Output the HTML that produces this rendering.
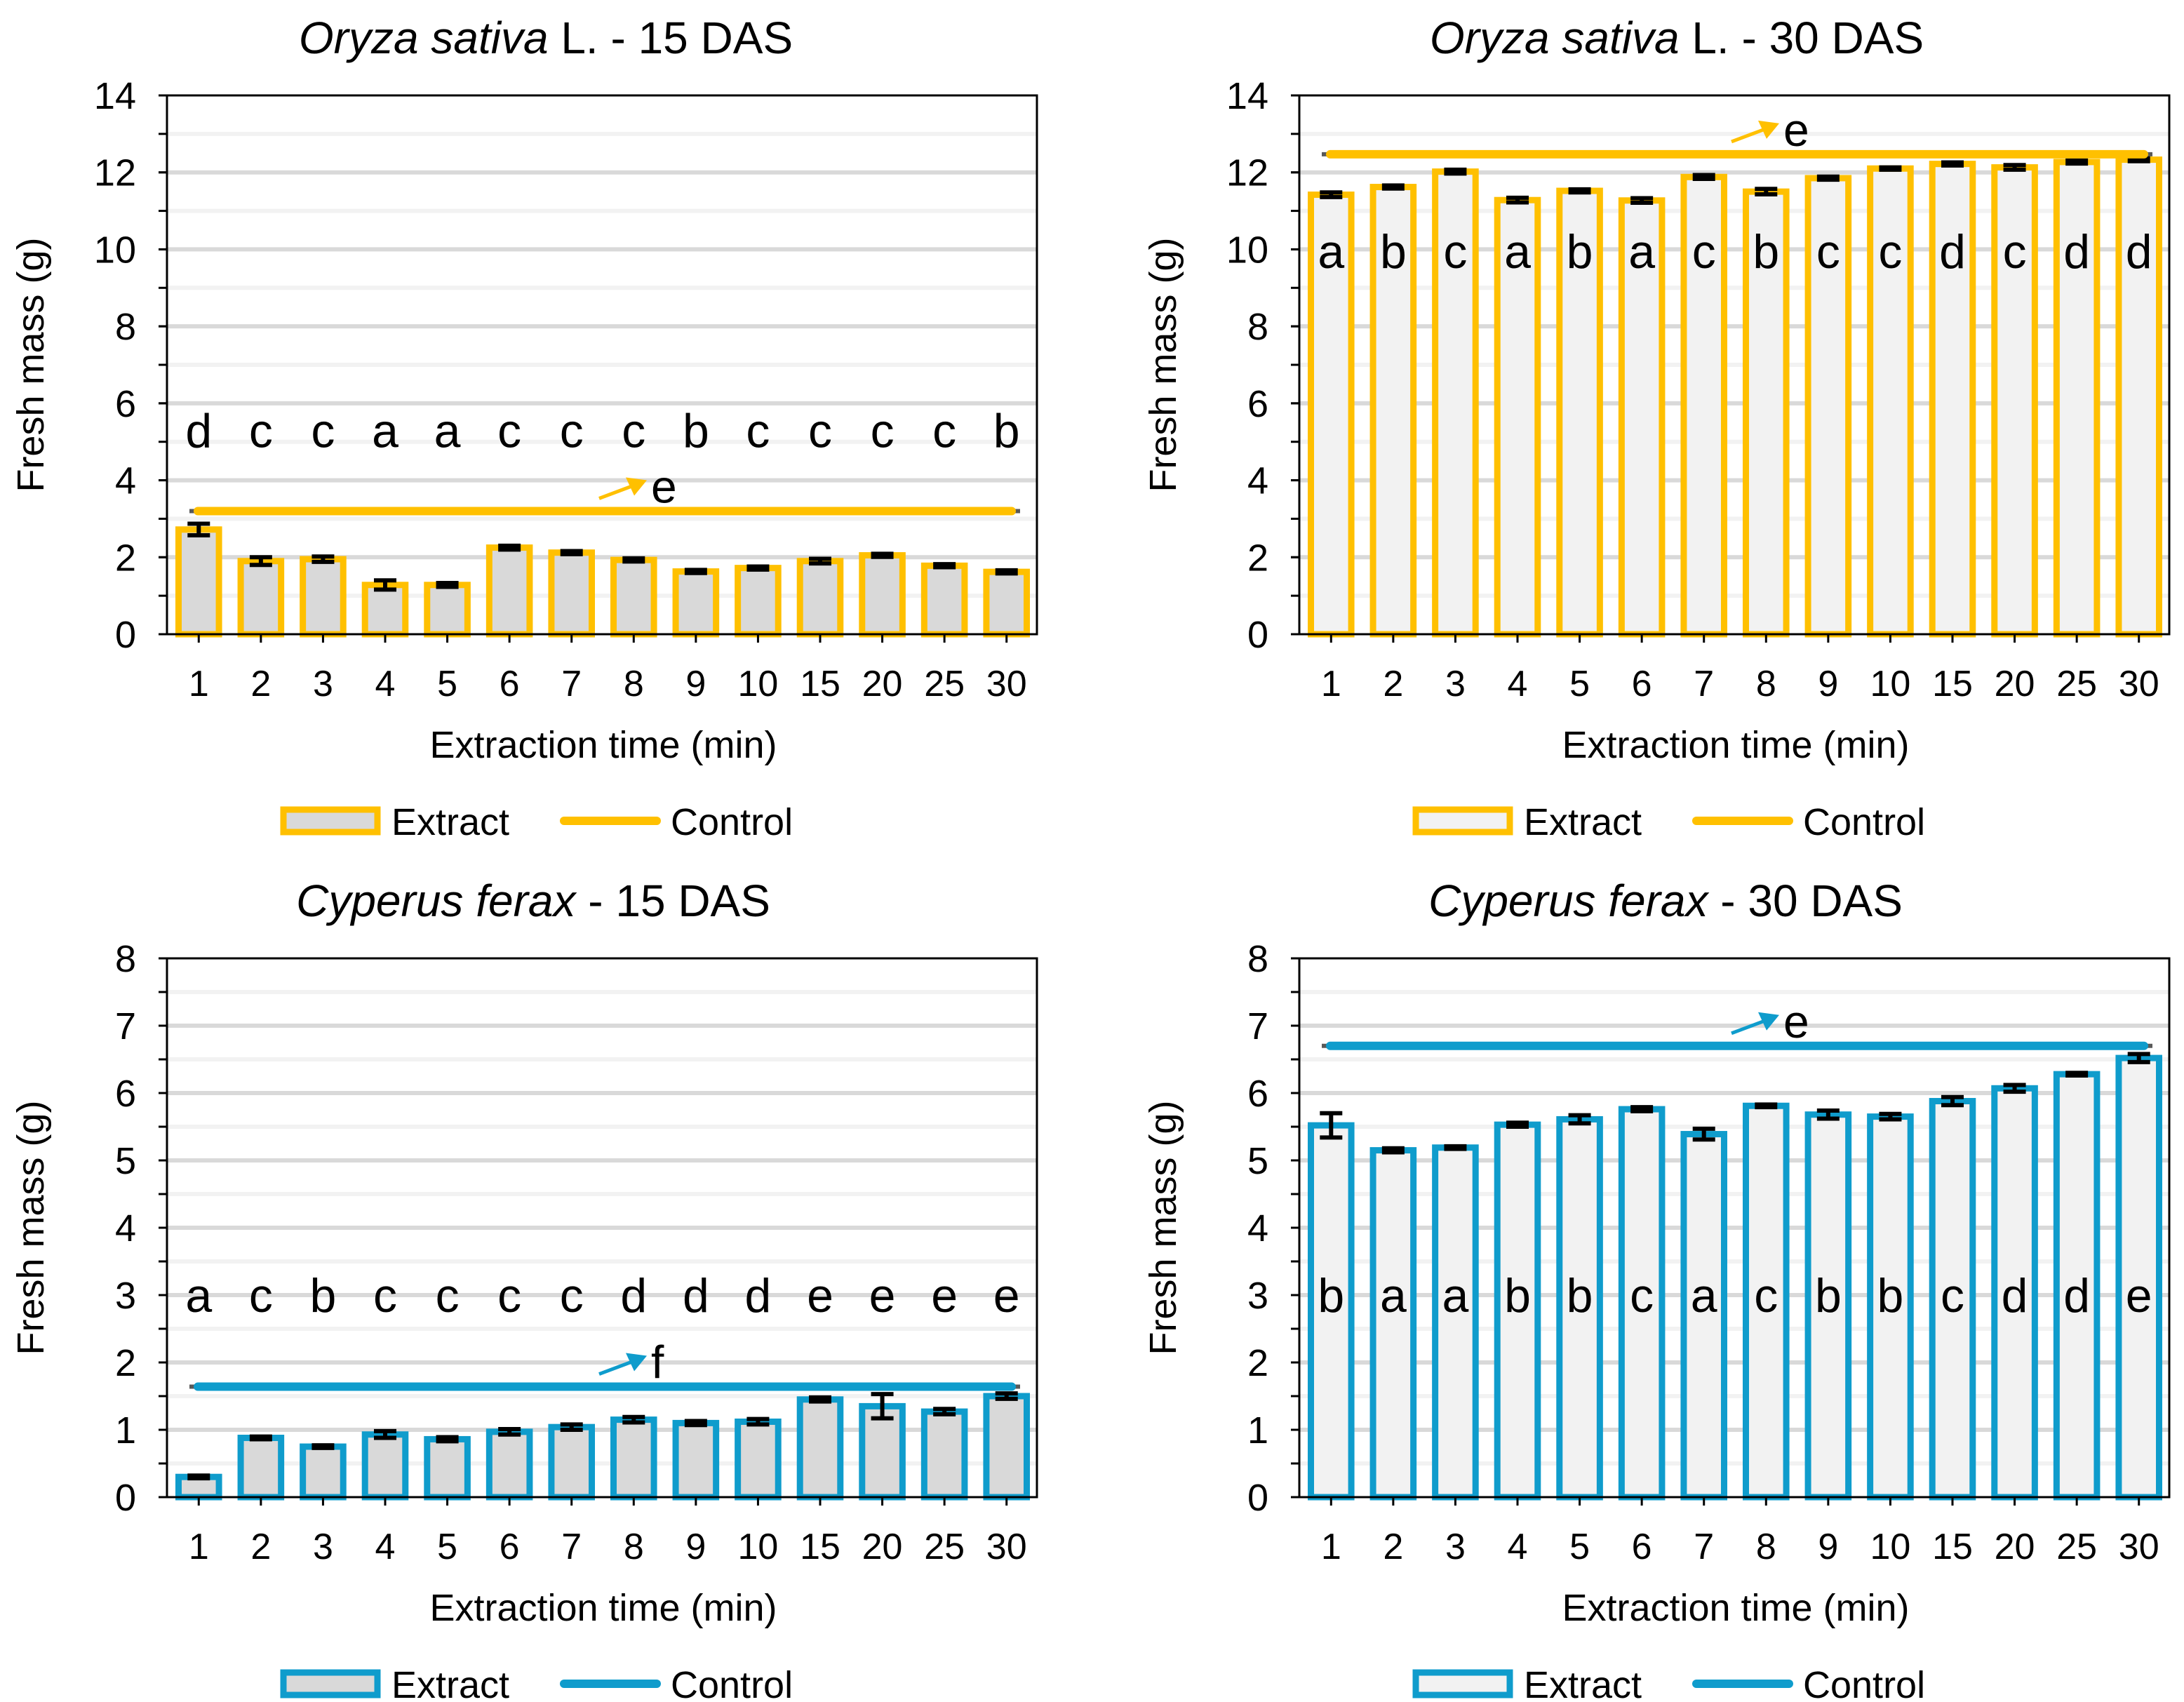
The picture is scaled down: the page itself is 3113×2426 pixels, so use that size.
<!DOCTYPE html>
<html><head><meta charset="utf-8">
<style>
html,body{margin:0;padding:0;background:#fff;}
svg{display:block;font-family:"Liberation Sans",Arial,sans-serif;}
</style></head>
<body>
<svg id="fig" width="3113" height="2426" viewBox="0 0 1556.5 1213" xmlns="http://www.w3.org/2000/svg"></svg>
<script>
const categories = ["1","2","3","4","5","6","7","8","9","10","15","20","25","30"];
const osat15Values = [2.72,1.9,1.95,1.28,1.28,2.25,2.12,1.93,1.63,1.72,1.9,2.05,1.78,1.62];
const osat15Errors = [0.15,0.1,0.07,0.12,0.05,0.05,0.04,0.04,0.04,0.04,0.06,0.04,0.04,0.04];
const osat15Letters = ["d","c","c","a","a","c","c","c","b","c","c","c","c","b"];
const osat15Control = 3.2;
const osat30Values = [11.42,11.62,12.02,11.28,11.52,11.27,11.88,11.5,11.85,12.1,12.22,12.13,12.27,12.33];
const osat30Errors = [0.06,0.04,0.05,0.06,0.04,0.06,0.05,0.07,0.04,0.03,0.04,0.06,0.04,0.04];
const osat30Letters = ["a","b","c","a","b","a","c","b","c","c","d","c","d","d"];
const osat30Control = 12.47;
const cfer15Values = [0.3,0.88,0.75,0.93,0.86,0.97,1.04,1.15,1.1,1.12,1.45,1.35,1.27,1.5];
const cfer15Errors = [0.02,0.02,0.02,0.05,0.03,0.04,0.04,0.04,0.03,0.04,0.03,0.18,0.04,0.04];
const cfer15Letters = ["a","c","b","c","c","c","c","d","d","d","e","e","e","e"];
const cfer15Control = 1.64;
const cfer30Values = [5.52,5.15,5.19,5.53,5.61,5.76,5.39,5.81,5.68,5.65,5.88,6.07,6.28,6.52];
const cfer30Errors = [0.18,0.03,0.02,0.03,0.06,0.03,0.08,0.02,0.06,0.04,0.06,0.05,0.02,0.06];
const cfer30Letters = ["b","a","a","b","b","c","a","c","b","b","c","d","d","e"];
const cfer30Control = 6.7;
const yTicks14 = [0,2,4,6,8,10,12,14];
const yTicks8 = [0,1,2,3,4,5,6,7,8];

const NS="http://www.w3.org/2000/svg";
const svg=document.getElementById('fig');
function mk(tag,attrs,parent,text){const e=document.createElementNS(NS,tag);for(const k in attrs)e.setAttribute(k,attrs[k]);if(text!==undefined)e.textContent=text;(parent||svg).appendChild(e);return e;}

function panel(o){
  const g=mk('g',{});
  
  
  const L=o.x0,R=o.x0+620,T=o.y0,B=o.y0+384;
  const ymax=o.ticks[o.ticks.length-1];
  const y=v=>B-(v/ymax)*(B-T);
  const slot=(R-L)/categories.length;
  const xc=i=>L+slot*(i+0.5)+0.5;
  const t=mk('text',{x:o.titleX,y:T-30,'font-size':32,'text-anchor':'middle'},g);
  
  
  mk('tspan',{'font-style':'italic'},t,o.species);
  mk('tspan',{},t,o.suffix);
  const step=o.ticks[1]-o.ticks[0];
  for(let v=step/2;v<ymax;v+=step/2){
    const major=Math.abs(v/step-Math.round(v/step))<1e-6;
    const gl=mk('line',{x1:L,x2:R,y1:y(v),y2:y(v),stroke:major?'#d9d9d9':'#f2f2f2','stroke-width':3},g);
    
    
    mk('line',{x1:L-6,x2:L,y1:y(v),y2:y(v),stroke:'#000','stroke-width':1.5},g);
  }
  o.ticks.forEach(v=>{
    mk('line',{x1:L-6,x2:L,y1:y(v),y2:y(v),stroke:'#000','stroke-width':1.5},g);
    const tl=mk('text',{x:L-22,y:y(v)+9.5,'font-size':27,'text-anchor':'end'},g,String(v));
    
    
  });
  categories.forEach((c,i)=>{
    const v=o.values[i],bw=slot*0.65;
    const r=mk('rect',{x:xc(i)-bw/2,y:y(v),width:bw,height:B-y(v),fill:o.fill,stroke:o.color,'stroke-width':4.5},g);
    
    
    const e=o.errors[i];
    const eb=mk('path',{d:`M${xc(i)-8},${y(v+e)}H${xc(i)+8}M${xc(i)},${y(v+e)}V${y(v-e)}M${xc(i)-8},${y(v-e)}H${xc(i)+8}`,stroke:'#000','stroke-width':3,fill:'none'},g);
    
    
    const lt=mk('text',{x:xc(i),y:y(o.letterY)+12,'font-size':34,'text-anchor':'middle'},g,o.letters[i]);
    
    
    const xl=mk('text',{x:xc(i),y:B+44,'font-size':26,'text-anchor':'middle'},g,c);
    
    
    mk('line',{x1:xc(i),x2:xc(i),y1:B,y2:B+6,stroke:'#000','stroke-width':1.5},g);
  });
  const fr=mk('rect',{x:L,y:T,width:R-L,height:B-T,fill:'none',stroke:'#000','stroke-width':1.5},g);
  
  
  const cy=y(o.control);
  mk('line',{x1:L+16,x2:R-12,y1:cy,y2:cy,stroke:'#595959','stroke-width':3},g);
  const cl=mk('line',{x1:L+22,x2:R-18,y1:cy,y2:cy,stroke:o.color,'stroke-width':6,'stroke-linecap':'round'},g);
  
  
  const ax=L+308,ay=cy-9;
  const ar=mk('g',{},g);
  
  
  mk('line',{x1:ax,y1:ay,x2:ax+24,y2:ay-9,stroke:o.color,'stroke-width':2.5},ar);
  mk('path',{d:`M${ax+34},${ay-13} L${ax+19},${ay-15} L${ax+25},${ay-2} Z`,fill:o.color},ar);
  const at=mk('text',{x:ax+37,y:ay+3,'font-size':33},g,o.controlLetter);
  
  
  const yt=mk('text',{x:0,y:0,'font-size':27,'text-anchor':'middle',transform:`translate(${L-88},${(T+B)/2}) rotate(-90)`},g,'Fresh mass (g)');
  
  
  const xt=mk('text',{x:L+311,y:B+88,'font-size':27,'text-anchor':'middle'},g,'Extraction time (min)');
  
  
  const lg=mk('g',{},g);
  
  
  const ly=B+133;
  const le=mk('rect',{x:L+83,y:ly-8,width:67,height:16,fill:o.fill,stroke:o.color,'stroke-width':4.5},lg);
  
  
  mk('text',{x:L+160,y:ly+10,'font-size':27},lg,'Extract');
  const lc=mk('line',{x1:L+283,x2:L+349,y1:ly,y2:ly,stroke:o.color,'stroke-width':6,'stroke-linecap':'round'},lg);
  
  
  mk('text',{x:L+359,y:ly+10,'font-size':27},lg,'Control');
}
const OR='#ffc000',BL='#0f9ccc';
panel({name:'chart-oryza-15das',x0:119,y0:68,ticks:yTicks14,values:osat15Values,errors:osat15Errors,letters:osat15Letters,letterY:5.3,control:osat15Control,controlLetter:'e',color:OR,fill:'#d9d9d9',species:'Oryza sativa',suffix:' L. - 15 DAS',titleX:389});
panel({name:'chart-oryza-30das',x0:926,y0:68,ticks:yTicks14,values:osat30Values,errors:osat30Errors,letters:osat30Letters,letterY:9.95,control:osat30Control,controlLetter:'e',color:OR,fill:'#f2f2f2',species:'Oryza sativa',suffix:' L. - 30 DAS',titleX:1195});
panel({name:'chart-cyperus-15das',x0:119,y0:683,ticks:yTicks8,values:cfer15Values,errors:cfer15Errors,letters:cfer15Letters,letterY:3.0,control:cfer15Control,controlLetter:'f',color:BL,fill:'#d9d9d9',species:'Cyperus ferax',suffix:' - 15 DAS',titleX:380});
panel({name:'chart-cyperus-30das',x0:926,y0:683,ticks:yTicks8,values:cfer30Values,errors:cfer30Errors,letters:cfer30Letters,letterY:3.0,control:cfer30Control,controlLetter:'e',color:BL,fill:'#f2f2f2',species:'Cyperus ferax',suffix:' - 30 DAS',titleX:1187});
</script>
</body></html>
